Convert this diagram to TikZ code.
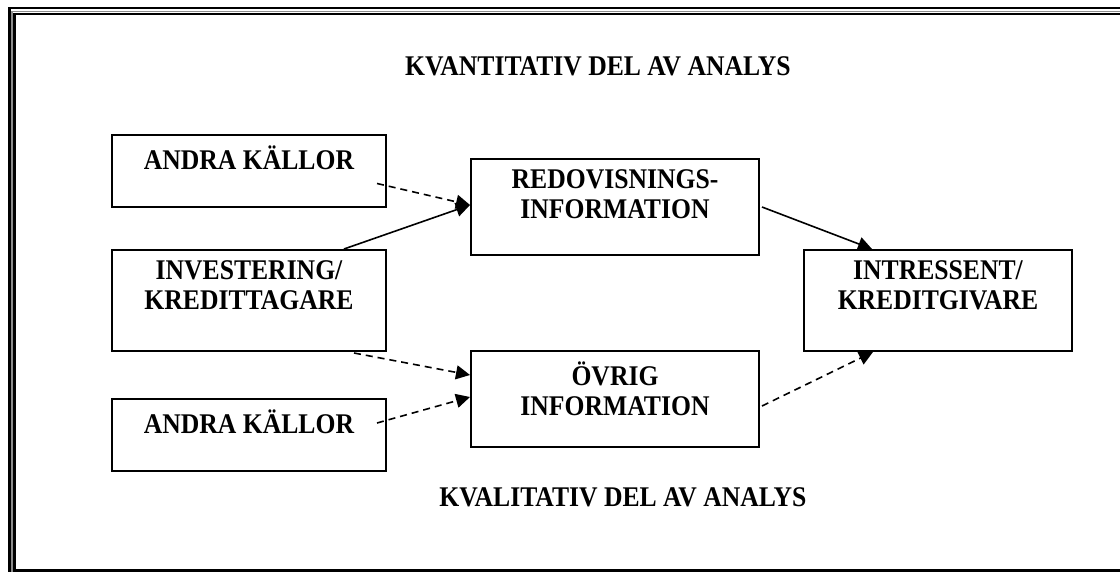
\documentclass[tikz,border=0pt]{standalone}
\usepackage{fontspec}
\setmainfont{Liberation Serif}[FakeStretch=0.9]
\usepackage{xcolor}
\usepackage{tikz}
\usetikzlibrary{calc,positioning,arrows.meta}
\definecolor{ink}{HTML}{000000}
\definecolor{rule}{HTML}{8C8C8C}
\tikzset{
  frame/.style={draw=ink, line width=2.6pt},
  thin/.style={draw=rule, line width=1.2pt},
  box/.style={draw=ink, line width=2pt, rectangle, inner sep=0pt},
  lab/.style={text=ink, font=\fontsize{28.5}{29.5}\selectfont\bfseries, align=center,
    inner sep=0pt, execute at begin node=\vphantom{Ä}},
  title/.style={text=ink, font=\fontsize{28.5}{29.5}\selectfont\bfseries, inner sep=0pt},
  conn/.style={draw=ink, line width=1.6pt, -{Triangle[length=14pt,width=14pt]}},
  dconn/.style={conn, dash pattern=on 7pt off 5pt},
}

\begin{document}
\begin{tikzpicture}[x=1pt,y=-1pt]
  \useasboundingbox (0,0) rectangle (1120,572);
  \clip (0,0) rectangle (1120,572);
  % page frame
  \draw[frame] (9.5,8.2) rectangle (1140,590);
  \draw[thin] (12,11.4) rectangle (1136,586);
  \draw[frame] (14.6,14.2) rectangle (1130,570.6);

  \node[title] (quant) at (598,66) {KVANTITATIV DEL AV ANALYS};
  \node[title] (qual) at (623,497) {KVALITATIV DEL AV ANALYS};

  % boxes
  \node[box, minimum width=274pt, minimum height=72pt]  (src1) at (249,171) {};
  \node[box, minimum width=274pt, minimum height=101pt] (inv)  at (249,300.5) {};
  \node[box, minimum width=274pt, minimum height=72pt]  (src2) at (249,435) {};
  \node[box, minimum width=288pt, minimum height=96pt]  (redo) at (615,207) {};
  \node[box, minimum width=288pt, minimum height=96pt]  (ovr)  at (615,399) {};
  \node[box, minimum width=268pt, minimum height=101pt] (intr) at (938,300.5) {};

  \node[lab, below=11.7pt of src1.north] (src1t) {ANDRA KÄLLOR};
  \node[lab, below=11.7pt of inv.north]  (invt)  {INVESTERING/\\KREDITTAGARE};
  \node[lab, below=11.7pt of src2.north] (src2t) {ANDRA KÄLLOR};
  \node[lab, below=11.7pt of redo.north] (redot) {REDOVISNINGS-\\INFORMATION};
  \node[lab, below=11.7pt of ovr.north]  (ovrt)  {ÖVRIG\\INFORMATION};
  \node[lab, below=11.7pt of intr.north] (intrt) {INTRESSENT/\\KREDITGIVARE};

  % arrows
  \draw[dconn] ($(src1.east)+(-10,12.5)$) -- ($(redo.west)+(0,-2)$);
  \draw[conn]  ($(inv.north)+(95,0)$) -- ($(redo.west)+(0,-2)$);
  \draw[conn]  ($(redo.east)+(2,0)$) -- ($(intr.north)+(-66,0)$);
  \draw[dconn] ($(inv.south)+(105,1)$) -- ($(ovr.west)+(0,-24)$);
  \draw[dconn] ($(src2.east)+(-10,-12)$) -- ($(ovr.west)+(0,-2)$);
  \draw[dconn] ($(ovr.east)+(2,7)$) -- ($(intr.south)+(-65,0)$);
\end{tikzpicture}
\end{document}
